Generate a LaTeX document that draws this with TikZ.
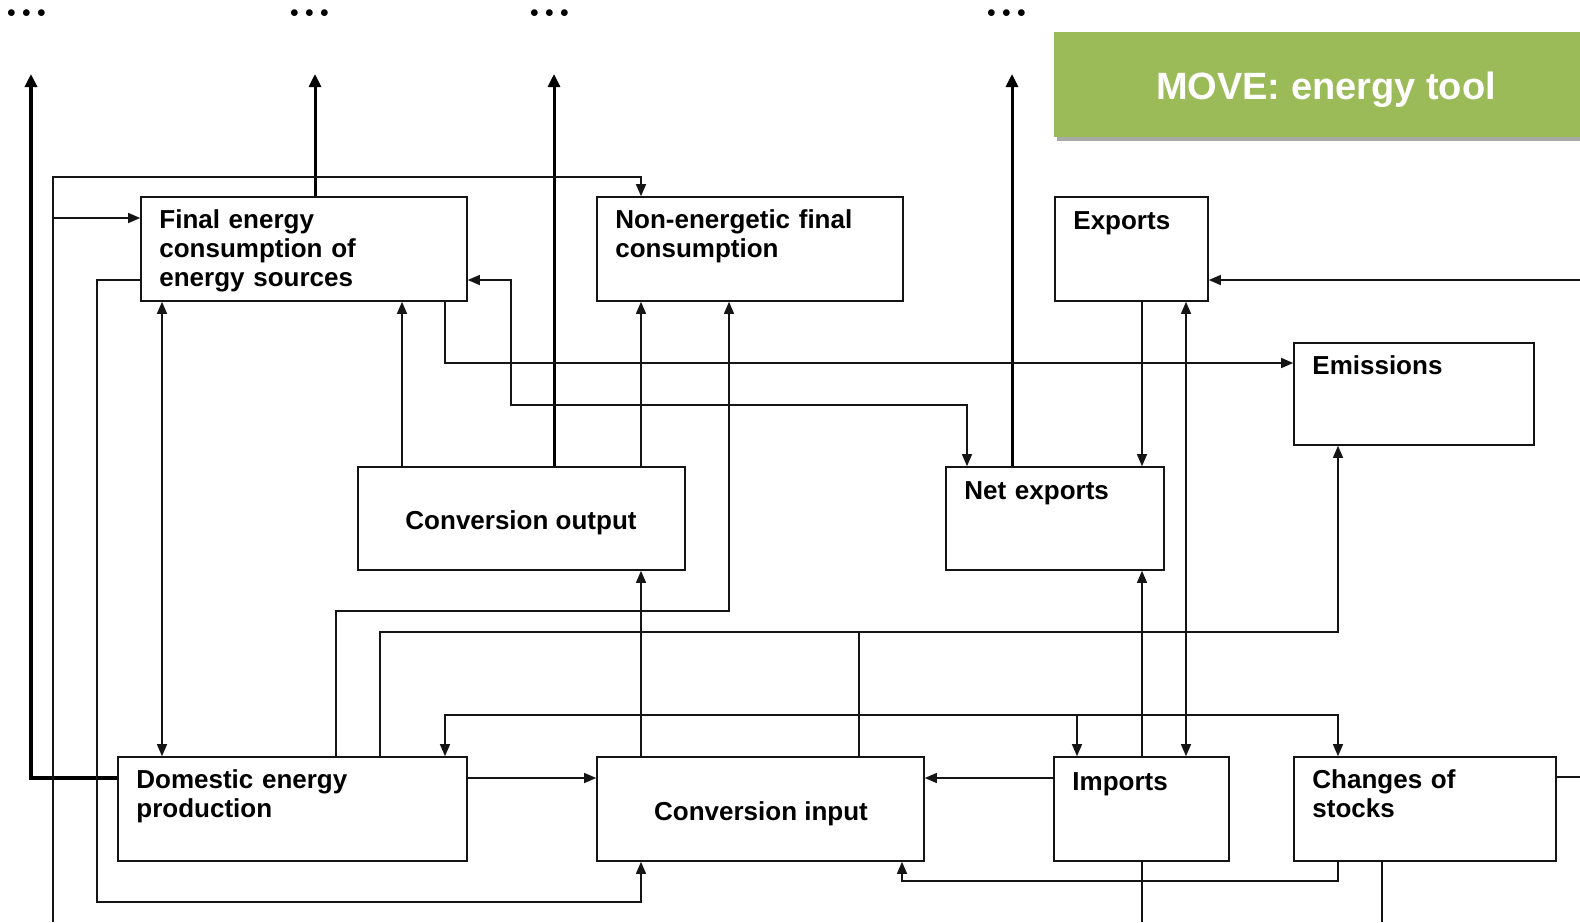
\documentclass[tikz,border=0pt]{standalone}
\usepackage{fontspec}
\newfontfamily\arial{Liberation Sans}
\usetikzlibrary{arrows.meta,calc}
\definecolor{movegreen}{HTML}{9BBB59}
\definecolor{shadowgray}{HTML}{A8AAA4}
\definecolor{ink}{HTML}{151515}
\begin{document}
\begin{tikzpicture}[x=1pt,y=-1pt,
  box/.style={draw=ink, line width=1.6pt, inner sep=0pt},
  lbl/.style={anchor=base west, inner sep=0pt, font=\arial\fontsize{26}{29}\selectfont\bfseries, align=left, text=black},
  clbl/.style={anchor=base, inner sep=0pt, font=\arial\fontsize{26}{29}\selectfont\bfseries, text=black},
  dots/.style={anchor=base, inner sep=0pt, font=\rmfamily\fontsize{47}{50}\selectfont\bfseries},
  conn/.style={line width=1.3pt, draw=ink},
  bold/.style={line width=3pt, draw=black},
  tip/.style={-{Triangle[length=12pt,width=10pt]}},
  tips/.style={{Triangle[length=12pt,width=10pt]}-{Triangle[length=12pt,width=10pt]}},
  btip/.style={-{Triangle[length=13pt,width=12pt]}}]
\useasboundingbox (0,0) rectangle (1580,922);

% title
\fill[shadowgray] (1057,136) rectangle (1580,141);
\node[fill=movegreen, minimum width=526pt, minimum height=105pt, inner sep=0pt] (MV) at (1317,84.5) {};
\node[anchor=base, inner sep=0pt, font=\arial\fontsize{38}{44}\selectfont\bfseries, text=white] (MVt) at (1326,99) {MOVE: energy tool};

% dots
\node[dots] (d1) at (27,16.5) {...};
\node[dots] (d2) at (310,16.5) {...};
\node[dots] (d3) at (550,16.5) {...};
\node[dots] (d4) at (1007,16.5) {...};

% boxes
\node[box, minimum width=326pt, minimum height=104pt] (FE) at (304,249) {};
\node[box, minimum width=306pt, minimum height=104pt] (NE) at (750,249) {};
\node[box, minimum width=153pt, minimum height=104pt] (EX) at (1131.5,249) {};
\node[box, minimum width=240pt, minimum height=102pt] (EM) at (1414,394) {};
\node[box, minimum width=327pt, minimum height=103pt] (CO) at (521.5,518.5) {};
\node[box, minimum width=218pt, minimum height=103pt] (NX) at (1055,518.5) {};
\node[box, minimum width=349pt, minimum height=104pt] (DEP) at (292.5,809) {};
\node[box, minimum width=327pt, minimum height=104pt] (CI) at (760.5,809) {};
\node[box, minimum width=175pt, minimum height=104pt] (IM) at (1141.5,809) {};
\node[box, minimum width=262pt, minimum height=104pt] (CS) at (1425,809) {};

% labels
\node[lbl, text width=300pt] (FEt) at ($(FE.north west)+(19,32)$) {Final energy\\consumption of\\energy sources};
\node[lbl, text width=280pt] (NEt) at ($(NE.north west)+(19,32)$) {Non-energetic final\\consumption};
\node[lbl, text width=130pt] (EXt) at ($(EX.north west)+(19,33)$) {Exports};
\node[lbl, text width=210pt] (EMt) at ($(EM.north west)+(19,32)$) {Emissions};
\node[lbl, text width=200pt] (NXt) at ($(NX.north west)+(19,33)$) {Net exports};
\node[lbl, text width=320pt] (DEPt) at ($(DEP.north west)+(19,32)$) {Domestic energy\\production};
\node[lbl, text width=150pt] (IMt) at ($(IM.north west)+(19,34)$) {Imports};
\node[lbl, text width=240pt] (CSt) at ($(CS.north west)+(19,32)$) {Changes of\\stocks};
\node[clbl] (COt) at (521,529) {Conversion output};
\node[clbl] (CIt) at (761,820) {Conversion input};

% free ends
\coordinate (u1) at (31,74);
\coordinate (u2) at (315,74);
\coordinate (u3) at (554,74);
\coordinate (u4) at (1012,74);
\coordinate (e53) at (53,922);
\coordinate (e1142) at (1142,922);
\coordinate (e1382) at (1382,922);
\coordinate (eR1) at (1580,777);
\coordinate (eR2) at (1580,280);

% bold outputs
\draw[line width=4.5pt, draw=black, btip, line join=miter] (DEP.west |- 0,778) -| (u1);
\draw[bold, btip] (FE.north -| u2) -- (u2);
\draw[bold, btip] (CO.north -| u3) -- (u3);
\draw[bold, btip] (NX.north -| u4) -- (u4);

% thin connectors
\draw[conn, tip] (e53) -- (53,177) -| (NE.north -| 641,0);
\draw[conn, tip] (53,218) -- (FE.west |- 0,218);
\draw[conn, tip] (FE.west |- 0,280) -- (97,280) -- (97,902) -| (CI.south -| 641,0);
\draw[conn, tips] (FE.south -| 162,0) -- (DEP.north -| 162,0);
\draw[conn, tip] (CO.north -| 402,0) -- (FE.south -| 402,0);
\draw[conn, tip] (FE.south -| 445,0) |- (EM.west |- 0,363);
\draw[conn, tips] (FE.east |- 0,280) -| (511,405) -| (NX.north -| 967,0);
\draw[conn, tip] (CO.north -| 641,0) -- (NE.south -| 641,0);
\draw[conn, tip] (DEP.north -| 336,0) |- (729,611) -- (NE.south -| 729,0);
\draw[conn, tip] (DEP.north -| 380,0) |- (1338,632) -- (EM.south -| 1338,0);
\draw[conn] (CI.north -| 859,0) -- (859,632);
\draw[conn, tips] (DEP.north -| 445,0) -- (445,715) -- (1338,715) -- (CS.north -| 1338,0);
\draw[conn, tip] (1077,715) -- (IM.north -| 1077,0);
\draw[conn, tip] (EX.south -| 1142,0) -- (NX.north -| 1142,0);
\draw[conn, tips] (EX.south -| 1186,0) -- (IM.north -| 1186,0);
\draw[conn, tip] (IM.north -| 1142,0) -- (NX.south -| 1142,0);
\draw[conn] (IM.south -| 1142,0) -- (e1142);
\draw[conn, tip] (CI.north -| 641,0) -- (CO.south -| 641,0);
\draw[conn, tip] (DEP.east |- 0,778) -- (CI.west |- 0,778);
\draw[conn, tip] (IM.west |- 0,778) -- (CI.east |- 0,778);
\draw[conn, tip] (CS.south -| 1338,0) -- (1338,881) -| (CI.south -| 902,0);
\draw[conn] (CS.south -| 1382,0) -- (e1382);
\draw[conn] (CS.east |- 0,777) -- (eR1);
\draw[conn, tip] (eR2) -- (EX.east |- 0,280);
\end{tikzpicture}
\end{document}
